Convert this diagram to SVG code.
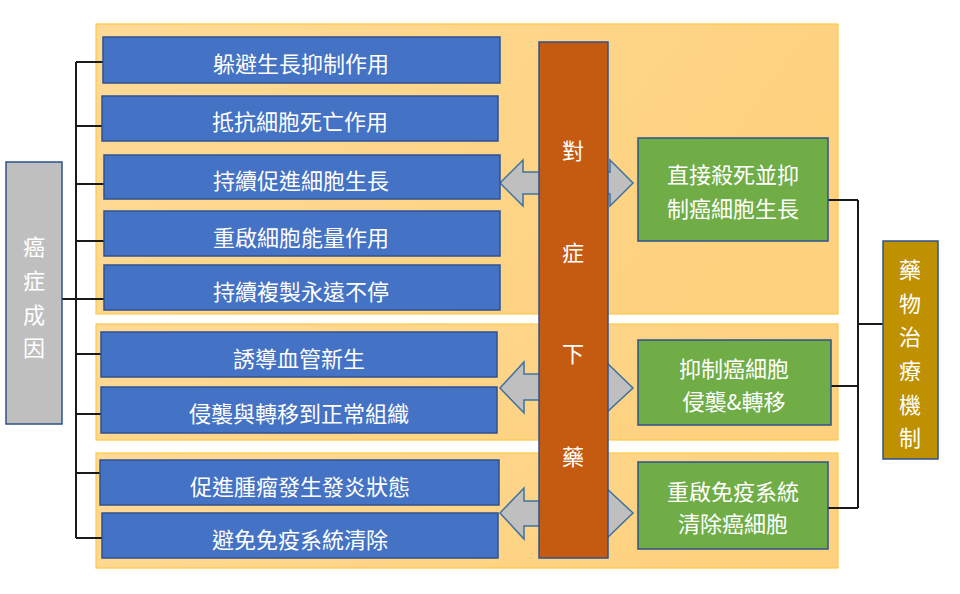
<svg xmlns="http://www.w3.org/2000/svg" width="960" height="594" viewBox="0 0 960 594">
<defs>
<linearGradient id="pg" x1="0" y1="0" x2="1" y2="0.3">
<stop offset="0" stop-color="#FFDA97"/>
<stop offset="1" stop-color="#FDD17E"/>
</linearGradient>
<style>
text{font-family:"Noto Sans CJK TC","Noto Sans CJK SC",sans-serif;fill:#FFFFFF;font-size:22px;text-anchor:middle;dominant-baseline:central}
.panel{fill:url(#pg);stroke:#FFC848;stroke-width:1.2}
.blue{fill:#4472C4;stroke:#2F528F;stroke-width:1.5}
.green{fill:#70AD47;stroke:#2F528F;stroke-width:1.5}
.arrow{fill:#BFBFBF;stroke:#41719C;stroke-width:1.5}
.line{stroke:#1A1A1A;stroke-width:2;fill:none}
</style>
</defs>
<rect width="960" height="594" fill="#FFFFFF"/>
<g id="panels">
<rect class="panel" x="96" y="24" width="742" height="290"/>
<rect class="panel" x="96" y="324" width="742" height="116"/>
<rect class="panel" x="96" y="453" width="742" height="115"/>
</g>
<g id="connectors">
<path class="line" d="M76,62 V538 M76,62 H104 M76,126 H102 M76,184 H104 M76,241 H104 M62,299 H104 M76,354 H101 M76,414 H101 M76,473 H100 M76,538 H102"/>
<path class="line" d="M858,200 V508 M828,200 H858 M830,386 H858 M828,508 H858 M858,324 H883"/>
<path class="arrow" d="M500,183 L523,160 L523,172 L610,172 L610,160 L633,183 L610,206 L610,194 L523,194 L523,206 Z"/>
<path class="arrow" d="M500,388 L524,362 L524,374 L606,374 L606,362 L633,388 L606,413 L606,400 L524,400 L524,413 Z"/>
<path class="arrow" d="M500,513 L524,488 L524,501 L606,501 L606,488 L633,513 L606,539 L606,526 L524,526 L524,539 Z"/>
</g>
<g id="cause">
<rect x="6" y="162" width="56" height="262" fill="#BFBFBF" stroke="#2F528F" stroke-width="1.5"/>
<text x="34" y="245">癌</text>
<text x="34" y="279">症</text>
<text x="34" y="313">成</text>
<text x="34" y="346">因</text>
</g>
<g id="b1"><rect class="blue" x="103" y="37" width="397" height="46"/><text x="301" y="62">躲避生長抑制作用</text></g>
<g id="b2"><rect class="blue" x="102" y="96" width="396" height="45"/><text x="300" y="120">抵抗細胞死亡作用</text></g>
<g id="b3"><rect class="blue" x="104" y="155" width="396" height="44"/><text x="301" y="179">持續促進細胞生長</text></g>
<g id="b4"><rect class="blue" x="104" y="211" width="396" height="45"/><text x="301" y="236">重啟細胞能量作用</text></g>
<g id="b5"><rect class="blue" x="104" y="265" width="396" height="45"/><text x="301" y="290">持續複製永遠不停</text></g>
<g id="b6"><rect class="blue" x="101" y="332" width="396" height="45"/><text x="299" y="357">誘導血管新生</text></g>
<g id="b7"><rect class="blue" x="101" y="387" width="396" height="46"/><text x="299" y="412">侵襲與轉移到正常組織</text></g>
<g id="b8"><rect class="blue" x="100" y="460" width="399" height="45"/><text x="300" y="485">促進腫瘤發生發炎狀態</text></g>
<g id="b9"><rect class="blue" x="102" y="513" width="396" height="45"/><text x="300" y="538">避免免疫系統清除</text></g>
<g id="center">
<rect x="539" y="42" width="69" height="516" fill="#C55A11" stroke="#2F528F" stroke-width="1.5"/>
<text x="573" y="149">對</text>
<text x="573" y="251">症</text>
<text x="573" y="352">下</text>
<text x="573" y="455">藥</text>
</g>
<g id="g1"><rect class="green" x="638" y="138" width="190" height="103"/><text x="733" y="173">直接殺死並抑</text><text x="733" y="207">制癌細胞生長</text></g>
<g id="g2"><rect class="green" x="638" y="340" width="193" height="85"/><text x="734" y="367">抑制癌細胞</text><text x="734" y="400">侵襲&amp;轉移</text></g>
<g id="g3"><rect class="green" x="638" y="462" width="190" height="87"/><text x="733" y="490">重啟免疫系統</text><text x="733" y="522">清除癌細胞</text></g>
<g id="drug">
<rect x="883" y="241" width="55" height="218" fill="#BF9000" stroke="#2F528F" stroke-width="1.5"/>
<text x="910" y="268">藥</text>
<text x="910" y="302">物</text>
<text x="910" y="335">治</text>
<text x="910" y="369">療</text>
<text x="910" y="403">機</text>
<text x="910" y="436">制</text>
</g>
</svg>
